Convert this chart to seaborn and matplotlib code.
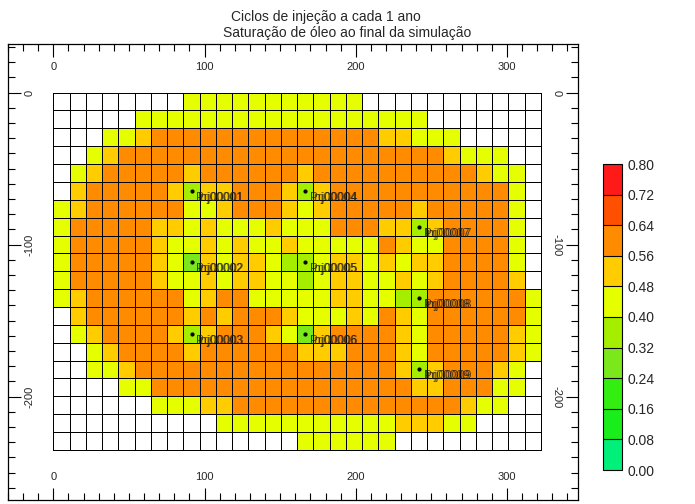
import numpy as np
import matplotlib
matplotlib.use("Agg")
import matplotlib.pyplot as plt
from matplotlib.colors import ListedColormap, BoundaryNorm
from matplotlib.ticker import FixedLocator, MultipleLocator
import seaborn as sns

# Oil saturation class of each grid cell (30 x 20).
# O = 0.56-0.64, Y = 0.48-0.56, L = 0.40-0.48, G = 0.32-0.40, g = 0.24-0.32, W = inactive
grid_rows = [
    "WWWWWWWWLLLLLLLLLLLWWWWWWWWWWW",
    "WWWWWLLLLLLLLLLLLLLLLLLWWWWWWW",
    "WWWLLYOOOOOOOOOOOOOOYYLLLWWWWW",
    "WWLYOOOOOOOOOOOOOOOOOOOOYLLLWW",
    "WLYOOOOOYOOOOOOYOOOOOOOOOOYLLW",
    "WYOOOOOYGYYOOOYGYOOOOOOOOOOOLW",
    "LYOOOOOOLLYOOOYLYOOOOOYOOOOOLW",
    "LOOOOOYYLYLLLYLLLOOOYYGYOOOOLW",
    "LOOOOOYLLYLYLLYLLLLLOYLLOOOOLW",
    "LOOOOOYLgYLYYLGGLYYLYLYYOOOOLW",
    "LOOOOOYLLYLYYLLGLYYLLYLYOOOOYW",
    "LYOOOOOOLYOOLLLLLYYLLGGOOOOOOL",
    "WYOOOOOOYOYOOOYLLLYLOYLOOOOOOL",
    "WLYOOOOYGYOOOYLgYOOOOYLOOOOOYL",
    "WWLYOOOOYOOOOOOYYYOOOYLOOOOOYL",
    "WWLLYOOOOOOOOOOOOOOOOYGYOOOYLW",
    "WWWWLLOOOOOOOOOOOOOOOOYYOOOLLW",
    "WWWWWWLLLYYOOOOOOOOOOOOOOYLLWW",
    "WWWWWWWWWWLLLLLLLLLLLYYYLLWWWW",
    "WWWWWWWWWWWWWWWLLLLLLWWWWWWWWW",
]
class_value = {"O": 0.60, "Y": 0.52, "L": 0.44, "G": 0.36, "g": 0.30, "W": np.nan}

# wells: name number, grid column, grid row
well_ids = ["00001", "00002", "00003", "00004", "00005", "00006", "00007", "00008", "00009"]
well_cols = [8, 8, 8, 15, 15, 15, 22, 22, 22]
well_rows = [5, 9, 13, 5, 9, 13, 7, 11, 15]

levels = [0.00, 0.08, 0.16, 0.24, 0.32, 0.40, 0.48, 0.56, 0.64, 0.72, 0.80]
level_colors = ["#00f07a", "#1aee1a", "#33ee11", "#7ae81a", "#a6ee00",
                "#e6ff00", "#ffcc00", "#ff8c00", "#ff5000", "#ff1a1a"]

# grid extent in map units (x to the right, y downwards from 0)
x_extent = 322.5
y_extent = 235.0
x_ticks = [0, 100, 200, 300]
y_ticks = [0, -100, -200]

sat = np.array([[class_value[c] for c in row] for row in grid_rows])
ny, nx = sat.shape
dx = x_extent / nx
dy = y_extent / ny

sns.set_style("white")
plt.rcParams["font.family"] = ["Liberation Sans", "DejaVu Sans"]

fig = plt.figure(figsize=(6.95, 5.04), dpi=100)
ax = fig.add_axes([8 / 695, 4 / 504, 570 / 695, 456 / 504])
cax = fig.add_axes([603 / 695, 34 / 504, 19 / 695, 306 / 504])

cmap = ListedColormap(level_colors)
cmap.set_bad("white")
norm = BoundaryNorm(levels, cmap.N)

sns.heatmap(sat, ax=ax, cbar_ax=cax, cmap=cmap, norm=norm,
            linewidths=0.6, linecolor="black",
            xticklabels=False, yticklabels=False,
            cbar_kws={"ticks": levels, "drawedges": True})

# wells
ax.scatter(np.array(well_cols) + 0.5, np.array(well_rows) + 0.5,
           s=4, color="black", zorder=5)
for wid, c, r in zip(well_ids, well_cols, well_rows):
    for prefix, shift in [("Inj", 4.5), ("Prj", 3.5)]:
        ax.annotate(prefix + wid, (c + 0.5, r + 0.5), xytext=(shift, -5),
                    textcoords="offset points", fontsize=8.5, color="#1a1a1a",
                    ha="left", va="center", alpha=0.75, zorder=6)

# map-unit axes drawn inside the frame
ax.set_xlim(-30 / dx, 347 / dx)
ax.set_ylim(268 / dy, -32 / dy)
ax.xaxis.set_major_locator(FixedLocator([v / dx for v in x_ticks]))
ax.yaxis.set_major_locator(FixedLocator([-v / dy for v in y_ticks]))
ax.xaxis.set_minor_locator(MultipleLocator(10 / dx))
ax.yaxis.set_minor_locator(MultipleLocator(10 / dy))
ax.set_xticklabels([str(v) for v in x_ticks])
ax.set_yticklabels([str(v) for v in y_ticks])
ax.set_xlabel("")
ax.set_ylabel("")

tick_font = ["Liberation Sans Narrow", "Liberation Sans", "DejaVu Sans"]
ax.tick_params(which="both", direction="in", top=True, bottom=True,
               left=True, right=True, color="black", width=0.8)
ax.tick_params(which="major", length=9)
ax.tick_params(which="minor", length=5)
ax.tick_params(axis="x", labeltop=True, labelbottom=True, pad=-20,
               labelsize=8)
ax.tick_params(axis="y", labelleft=True, labelright=True, labelsize=8)
for t in ax.xaxis.get_major_ticks():
    t.label1.set_family(tick_font)
    t.label2.set_family(tick_font)
for t in ax.yaxis.get_major_ticks():
    t.label1.set_family(tick_font)
    t.label2.set_family(tick_font)
    t.label1.set_rotation(90)
    t.label1.set_va("center")
    t.label2.set_rotation(-90)
    t.label2.set_va("center")
    t.set_pad(-19)
for side in ["top", "bottom", "left", "right"]:
    ax.spines[side].set_visible(True)
    ax.spines[side].set_color("black")
    ax.spines[side].set_linewidth(0.9)

# colour bar
cbar = ax.collections[0].colorbar
cbar.set_ticklabels([f"{v:.2f}" for v in levels])
cbar.ax.tick_params(length=0, labelsize=10, pad=4)
cbar.outline.set_edgecolor("black")
cbar.outline.set_linewidth(0.8)
cbar.dividers.set_color("black")
cbar.dividers.set_linewidth(0.8)

fig.text(326 / 695, 1 - 17 / 504, "Ciclos de injeção a cada 1 ano",
         ha="center", va="center", fontsize=10)
fig.text(347 / 695, 1 - 33 / 504, "Saturação de óleo ao final da simulação",
         ha="center", va="center", fontsize=10)

fig.savefig("out.png", dpi=100)
